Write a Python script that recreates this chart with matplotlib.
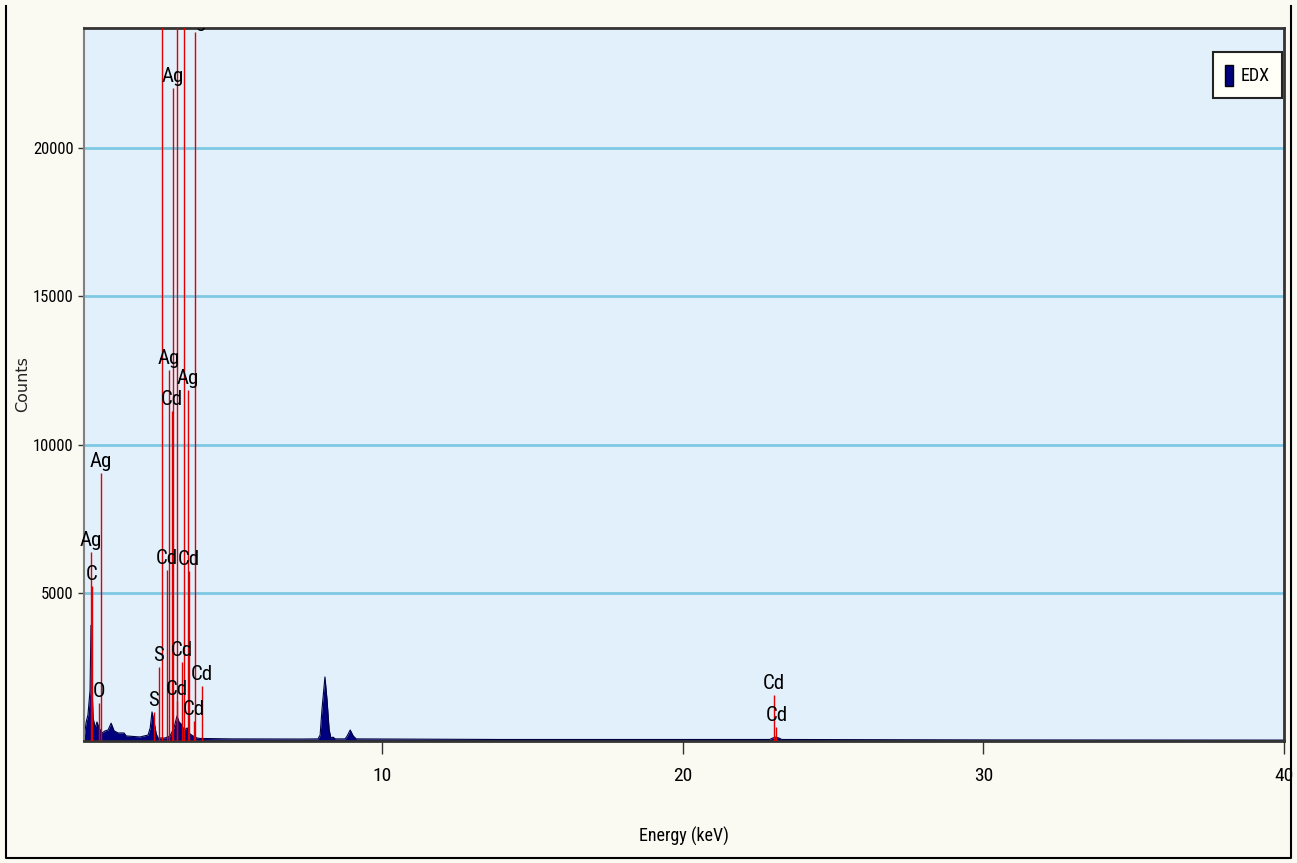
import matplotlib.pyplot as plt
from matplotlib.patches import Patch
from matplotlib.lines import Line2D

# spectrum (keV, counts)
energy = [0.10, 0.17, 0.23, 0.30, 0.33, 0.37, 0.40, 0.47, 0.53, 0.60, 0.70, 0.80, 0.90,
          1.00, 1.10, 1.23, 1.43, 1.50, 1.96, 2.23, 2.30, 2.36, 2.43, 2.50, 2.56, 2.79,
          2.96, 3.09, 3.19, 3.26, 3.33, 3.43, 3.53, 3.62, 3.72, 3.86, 3.96, 5.0, 7.3,
          7.88, 7.95, 8.01, 8.11, 8.18, 8.25, 8.31, 8.38, 8.45, 8.78, 8.85, 8.95, 9.05,
          9.15, 13.9, 22.9, 23.0, 23.1, 23.2, 23.3, 30.6, 40.0]
counts = [70, 640, 880, 1720, 3900, 1720, 780, 440, 640, 440, 270, 340, 370,
          600, 340, 270, 270, 170, 135, 200, 440, 980, 640, 240, 100, 100,
          170, 440, 840, 640, 570, 370, 440, 240, 170, 100, 85, 70, 65,
          70, 200, 1050, 2160, 1380, 370, 100, 130, 70, 70, 170, 370, 170,
          70, 50, 50, 100, 130, 100, 50, 35, 30]

# element marker lines (keV, height in counts, label); "" = label above the frame
line_energy = [0.33, 0.36, 0.60, 0.65, 2.41, 2.58, 2.70, 2.85, 2.93, 3.03, 3.05, 3.19,
               3.19, 3.36, 3.43, 3.56, 3.59, 3.76, 3.80, 4.02, 23.05, 23.12]
line_height = [6370, 5230, 1280, 9040, 980, 2500, 30000, 5770, 12510, 11130, 22020, 1350,
               30000, 2660, 30000, 11840, 5730, 670, 23900, 1850, 1550, 470]
line_label = ["Ag", "C", "O", "Ag", "S", "S", "", "Cd", "Ag", "Cd", "Ag", "Cd",
              "", "Cd", "", "Ag", "Cd", "Cd", "Ag", "Cd", "Cd", "Cd"]

xticks = [10, 20, 30, 40]
yticks = [5000, 10000, 15000, 20000]

narrow = ["Roboto Condensed", "Liberation Sans", "DejaVu Sans"]

fig = plt.figure(figsize=(12.97, 8.63), dpi=100, facecolor="#FAFAF3")
ax = fig.add_axes([0.0648, 0.1414, 0.9252, 0.8262])
ax.set_facecolor("#E2F0FB")
ymax = 24050

for y in yticks:
    ax.axhline(y, color="#7EC8E3", lw=2, zorder=1)

ax.fill_between(energy, counts, 0, color="#00007F", lw=0, zorder=2)
ax.plot(energy, counts, color="#000040", lw=0.8, zorder=2)

ax.vlines(line_energy, 0, line_height, color="#E00000", lw=1.0, zorder=3)
for e, h, lab in zip(line_energy, line_height, line_label):
    if lab:
        ax.text(e, h + 60, lab, ha="center", va="bottom", fontsize=15, family=narrow,
                color="black", zorder=4, clip_on=(h > 0.95 * ymax))

ax.set_xlim(0.1, 40)
ax.set_ylim(0, ymax)
ax.set_xticks(xticks)
ax.set_yticks(yticks)
ax.set_xticklabels([str(t) for t in xticks], family=narrow, fontsize=14)
ax.set_yticklabels([str(t) for t in yticks], family=narrow, fontsize=12)
ax.tick_params(axis="x", length=9.5, width=1, color="#333333", pad=9)
ax.tick_params(axis="y", length=4.5, width=1, color="#333333", pad=3)

ax.spines["left"].set_color("#808080")
ax.spines["left"].set_linewidth(1.5)
for s in ["top", "bottom", "right"]:
    ax.spines[s].set_color("#333333")
    ax.spines[s].set_linewidth(2)

ax.set_xlabel("Energy (keV)", family=narrow, fontsize=13)
ax.xaxis.set_label_coords(0.5, -0.12)
ax.set_ylabel("Counts", family="DejaVu Sans", fontsize=11.5, color="#222222")
ax.yaxis.set_label_coords(-0.045, 0.5)

leg = ax.legend(handles=[Patch(facecolor="#00007F", edgecolor="black")], labels=["EDX"],
                loc="upper right", bbox_to_anchor=(0.9985, 0.966), borderaxespad=0,
                fancybox=False, handlelength=0.45, handleheight=1.4, handletextpad=0.4,
                borderpad=0.7, prop={"family": narrow, "size": 13})
leg.get_frame().set_edgecolor("#222222")
leg.get_frame().set_facecolor("#FFFFF8")
leg.get_frame().set_linewidth(1.5)
leg.get_frame().set_alpha(1)

fig.add_artist(Line2D([0.0046, 0.0046, 0.9954, 0.9954], [0.993, 0.0058, 0.0058, 0.993],
                      transform=fig.transFigure, color="black", lw=1.5))

plt.savefig("out.png", dpi=100, facecolor=fig.get_facecolor())
